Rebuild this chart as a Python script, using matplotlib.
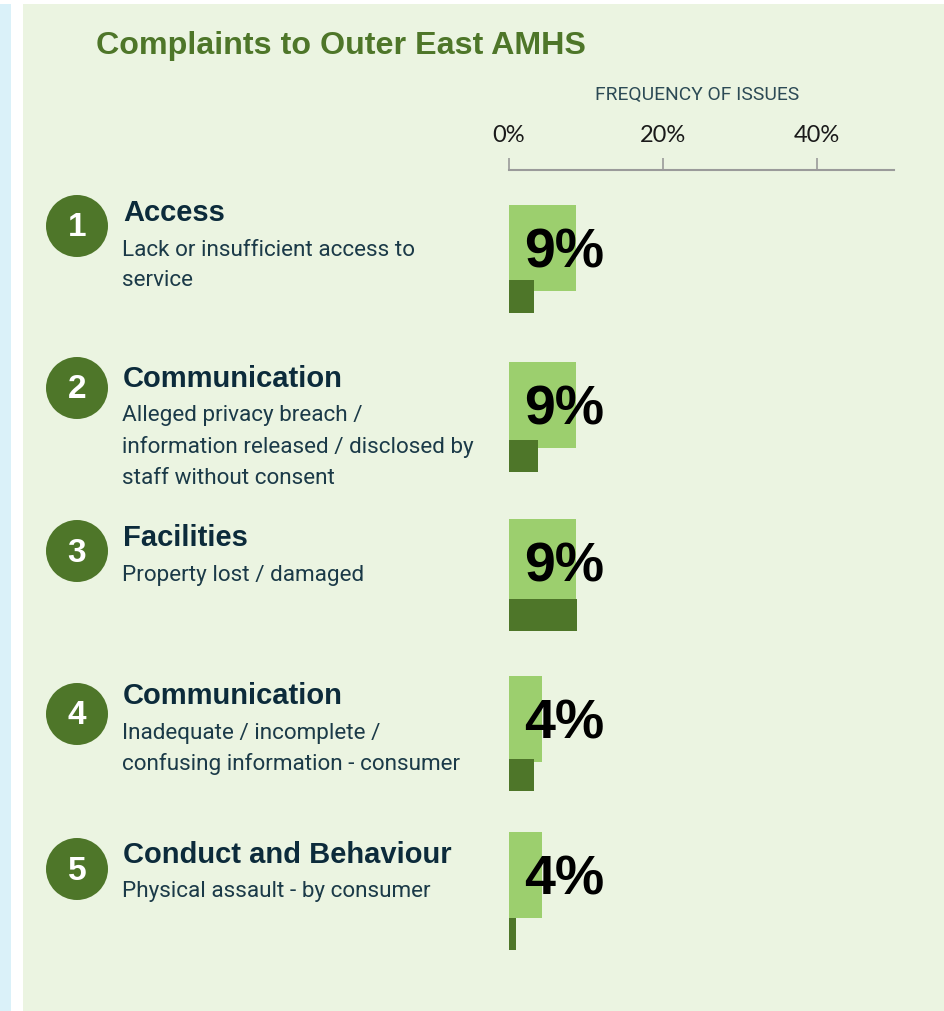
import matplotlib.pyplot as plt
from matplotlib.patches import Rectangle, Circle

# complaint categories and their share of issues (%)
numbers = ["1", "2", "3", "4", "5"]
headings = ["Access", "Communication", "Facilities", "Communication",
            "Conduct and Behaviour"]
details = [
    ["Lack or insufficient access to", "service"],
    ["Alleged privacy breach /", "information released / disclosed by",
     "staff without consent"],
    ["Property lost / damaged"],
    ["Inadequate / incomplete /", "confusing information - consumer"],
    ["Physical assault - by consumer"],
]
service_pct = [8.7, 8.7, 8.7, 4.35, 4.35]
compare_pct = [3.2, 3.8, 8.8, 3.2, 0.9]
xticks = [0, 20, 40]

# colours
panel = "#ebf4e1"
strip = "#daf1f9"
green = "#4e7629"
light = "#9ccf6e"
navy = "#0c2b3b"
desc_col = "#1b3a48"

W, H = 945, 1011
fig = plt.figure(figsize=(W / 100, H / 100), dpi=100, facecolor="white")

# page background, texts and numbered circles, in pixel units
bg = fig.add_axes([0, 0, 1, 1], zorder=0)
bg.set_xlim(0, W)
bg.set_ylim(H, 0)
bg.axis("off")
bg.add_patch(Rectangle((0, 4), 11, H, color=strip, lw=0))
bg.add_patch(Rectangle((23, 4), W, H, color=panel, lw=0))

bg.text(96, 46, "Complaints to Outer East AMHS", color=green,
        fontsize=23.2, fontweight="bold", family="Liberation Sans",
        ha="left", va="center")

circle_y = [226, 388, 551, 714, 869]
head_y = [213, 379, 538, 696, 855]
line_h = 31
for i in range(len(headings)):
    bg.add_patch(Circle((77, circle_y[i]), 31, color=green, lw=0))
    bg.text(77, circle_y[i] + 2, numbers[i], color="white", fontsize=24,
            fontweight="bold", family="Liberation Sans",
            ha="center", va="center")
    bg.text(123, head_y[i], headings[i], color=navy, fontsize=21,
            fontweight="bold", family="Liberation Sans",
            ha="left", va="center")
    for k, line in enumerate(details[i]):
        bg.text(122, head_y[i] + 37 + k * line_h, line, color=desc_col,
                fontsize=16.2, family="Roboto", ha="left", va="center")

# bar panel: x in percent, one unit of y per category
row = 156.75
top = 170
ax = fig.add_axes([509 / W, 0, 385 / W, (H - top) / H], zorder=1)
ax.patch.set_alpha(0)
ax.set_xlim(0, 50)
ax.set_ylim((H - top) / row, 0)

ys = [i + 0.5 for i in range(len(service_pct))]
dark_ys = [0.807 + 1.017 * i for i in range(len(compare_pct))]
ax.barh(ys, service_pct, height=0.55, color=light, lw=0)
ax.barh(dark_ys, compare_pct, height=0.205, color=green, lw=0)
for y, v in zip(ys, service_pct):
    ax.text(1.9, y + 0.035, f"{round(v)}%", fontsize=40, fontweight="bold",
            family="Liberation Sans", color="black", ha="left", va="center")

for s in ["bottom", "left", "right"]:
    ax.spines[s].set_visible(False)
ax.spines["top"].set_color("#9a9a9a")
ax.spines["top"].set_linewidth(1.5)
ax.set_yticks([])
ax.xaxis.tick_top()
ax.set_xticks(xticks)
ax.set_xticklabels([f"{t}%" for t in xticks], family="Lato", fontsize=17,
                   color="#1a1a1a")
ax.tick_params(axis="x", direction="out", length=9, width=1.2,
               color="#9a9a9a", pad=8)
ax.xaxis.set_label_position("top")
ax.set_xlabel("FREQUENCY OF ISSUES", family="Roboto", fontsize=13.9,
              color="#2c4a55", va="center")
ax.xaxis.set_label_coords((697 - 509) / 385, 1 + (top - 95) / (H - top))

fig.savefig("out.png", dpi=100, facecolor="white")
